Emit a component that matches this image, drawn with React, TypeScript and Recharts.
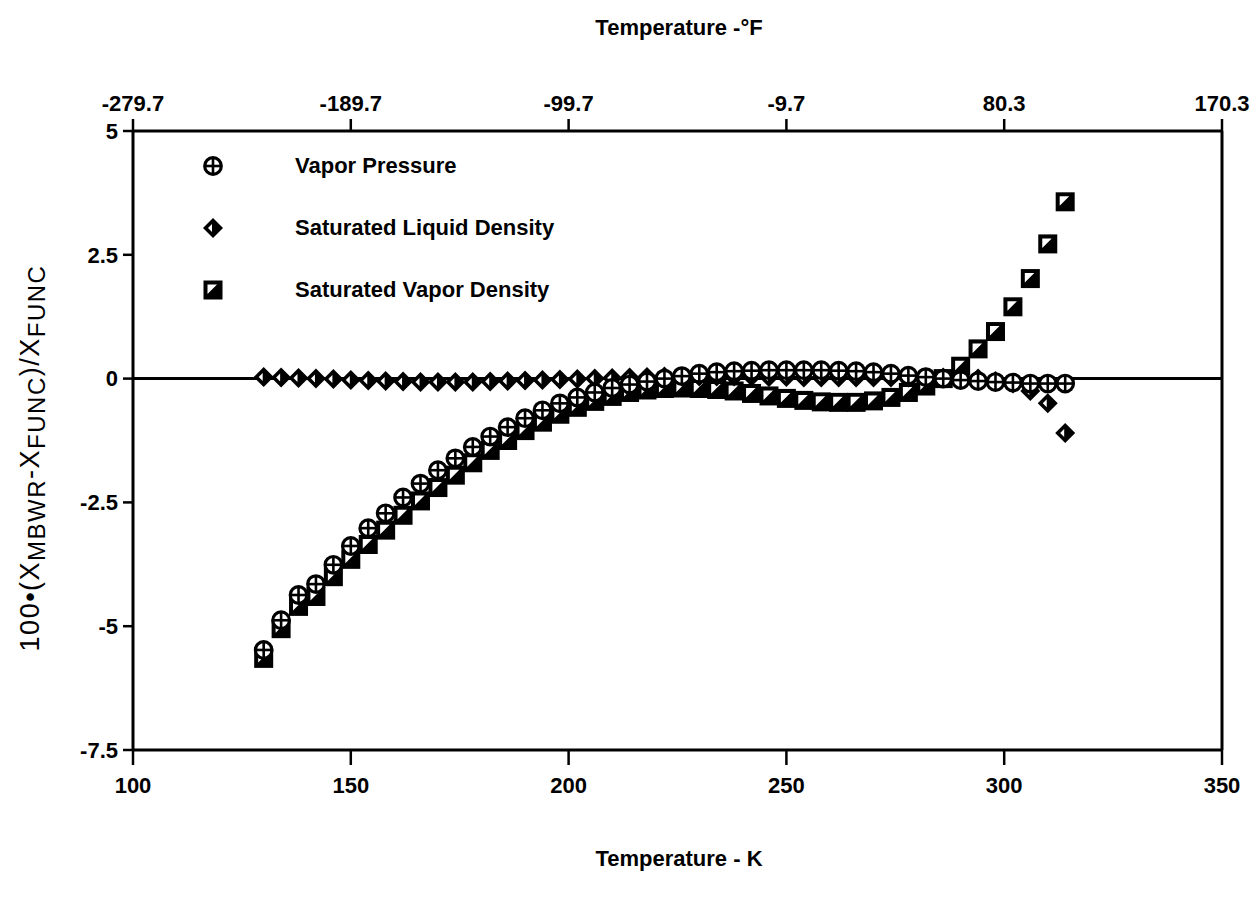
import React from 'react';
import { ScatterChart, Scatter, XAxis, YAxis, ReferenceLine, Legend } from 'recharts';

const temperaturesK = [
  130, 134, 138, 142, 146, 150, 154, 158, 162, 166, 170, 174, 178, 182, 186, 190,
  194, 198, 202, 206, 210, 214, 218, 222, 226, 230, 234, 238, 242, 246, 250, 254,
  258, 262, 266, 270, 274, 278, 282, 286, 290, 294, 298, 302, 306, 310, 314,
];

const vaporPressure = [
  -5.48, -4.88, -4.37, -4.15, -3.76, -3.38, -3.02, -2.72, -2.4, -2.12, -1.85, -1.61, -1.38, -1.17, -0.98, -0.8,
  -0.64, -0.5, -0.38, -0.28, -0.19, -0.12, -0.06, 0.0, 0.05, 0.1, 0.13, 0.15, 0.16, 0.17, 0.17, 0.17,
  0.17, 0.16, 0.15, 0.13, 0.1, 0.06, 0.03, 0.0, -0.03, -0.05, -0.07, -0.08, -0.1, -0.1, -0.1,
];

const liquidDensity = [
  0.03, 0.02, 0.01, 0.0, -0.01, -0.03, -0.04, -0.05, -0.06, -0.07, -0.07, -0.07, -0.07, -0.06, -0.05, -0.04,
  -0.03, -0.02, -0.01, 0.0, 0.01, 0.02, 0.03, 0.04, 0.04, 0.04, 0.04, 0.04, 0.04, 0.03, 0.03, 0.02,
  0.02, 0.02, 0.02, 0.02, 0.02, 0.02, 0.02, 0.02, 0.02, 0.0, -0.05, -0.1, -0.25, -0.5, -1.1,
];

const vaporDensity = [
  -5.65, -5.05, -4.6, -4.4, -4.0, -3.65, -3.35, -3.06, -2.76, -2.47, -2.2, -1.95, -1.7, -1.45, -1.25, -1.05,
  -0.88, -0.72, -0.58, -0.46, -0.36, -0.28, -0.23, -0.2, -0.19, -0.2, -0.22, -0.25, -0.3, -0.35, -0.4, -0.44,
  -0.47, -0.48, -0.48, -0.45, -0.38, -0.28, -0.15, 0.0, 0.25, 0.6, 0.95, 1.45, 2.02, 2.72, 3.57,
];

const kelvinTicks = [100, 150, 200, 250, 300, 350];
const fahrenheitTickLabels = ['-279.7', '-189.7', '-99.7', '-9.7', '80.3', '170.3'];
const yTicks = [5, 2.5, 0, -2.5, -5, -7.5];
const seriesNames = ['Vapor Pressure', 'Saturated Liquid Density', 'Saturated Vapor Density'];

const FONT = '"Liberation Sans", Arial, Helvetica, sans-serif';

const toPoints = (values: number[]) => temperaturesK.map((t, i) => ({ t, v: values[i] }));
const vpData = toPoints(vaporPressure);
const ldData = toPoints(liquidDensity);
const vdData = toPoints(vaporDensity);

function CircleCross({ cx, cy }: any) {
  if (cx == null || cy == null) return null;
  return (
    <g>
      <circle cx={cx} cy={cy} r={8.3} fill="#fff" stroke="#000" strokeWidth={3.2} />
      <line x1={cx - 8} x2={cx + 8} y1={cy} y2={cy} stroke="#000" strokeWidth={2.6} />
      <line x1={cx} x2={cx} y1={cy - 8} y2={cy + 8} stroke="#000" strokeWidth={2.6} />
    </g>
  );
}

function Diamond({ cx, cy }: any) {
  if (cx == null || cy == null) return null;
  const s = 10;
  return (
    <g>
      <path d={`M${cx} ${cy - s}L${cx + s} ${cy}L${cx} ${cy + s}L${cx - s} ${cy}Z`} fill="#000" />
      <path d={`M${cx - 5} ${cy}L${cx - 1} ${cy - 4}L${cx - 1} ${cy + 4}Z`} fill="#fff" />
    </g>
  );
}

function HalfSquare({ cx, cy }: any) {
  if (cx == null || cy == null) return null;
  const s = 9.5;
  return (
    <g>
      <rect x={cx - s} y={cy - s} width={2 * s} height={2 * s} fill="#000" />
      <path d={`M${cx - 5.5} ${cy - 5.5}L${cx + 4} ${cy - 5.5}L${cx - 5.5} ${cy + 4}Z`} fill="#fff" />
    </g>
  );
}

const markers = [CircleCross, Diamond, HalfSquare];

function LegendContent() {
  return (
    <div style={{ fontFamily: FONT, fontWeight: 'bold', fontSize: 22, color: '#000' }}>
      {seriesNames.map((name, i) => {
        const M = markers[i];
        return (
          <div key={name} style={{ display: 'flex', alignItems: 'center', height: 62 }}>
            <svg width={40} height={30} style={{ display: 'block' }}>
              <M cx={20} cy={15} />
            </svg>
            <span style={{ marginLeft: 62, whiteSpace: 'nowrap' }}>{name}</span>
          </div>
        );
      })}
    </div>
  );
}

function YTitle() {
  const x = 31;
  const y = 450;
  return (
    <text
      x={x}
      y={y}
      transform={`rotate(-90, ${x}, ${y})`}
      textAnchor="middle"
      fontFamily={FONT}
      fontSize={27}
      letterSpacing={1.5}
      fill="#000"
    >
      100•(X
      <tspan dy={6} fontSize={24}>MBWR</tspan>
      <tspan dy={-6}>-X</tspan>
      <tspan dy={6} fontSize={24}>FUNC</tspan>
      <tspan dy={-6}>)/X</tspan>
      <tspan dy={6} fontSize={24}>FUNC</tspan>
    </text>
  );
}

function TopTitle() {
  return (
    <text x={671} y={27} textAnchor="middle" fontFamily={FONT} fontWeight="bold" fontSize={22} fill="#000">
      Temperature -°F
    </text>
  );
}

function BottomTitle() {
  return (
    <text x={671} y={858} textAnchor="middle" fontFamily={FONT} fontWeight="bold" fontSize={22} fill="#000">
      Temperature - K
    </text>
  );
}

const tickStyle = { fill: '#000', fontSize: 22, fontWeight: 'bold', fontFamily: FONT } as any;
const axisLine = { stroke: '#000', strokeWidth: 3 };
const tickLine = { stroke: '#000', strokeWidth: 2.5 };

export default function App() {
  return (
    <div style={{ width: 1242, height: 882 }}>
      <ScatterChart width={1242} height={882} margin={{ top: 0, right: 28, bottom: 0, left: 0 }}>
        <XAxis
          xAxisId={0}
          dataKey="t"
          type="number"
          domain={[100, 350]}
          ticks={kelvinTicks}
          allowDataOverflow
          height={140}
          tickSize={15}
          tickMargin={12}
          tick={tickStyle}
          axisLine={axisLine}
          tickLine={tickLine}
          label={<BottomTitle />}
        />
        <XAxis
          xAxisId="top"
          dataKey="t"
          orientation="top"
          type="number"
          domain={[100, 350]}
          ticks={kelvinTicks}
          allowDataOverflow
          height={123}
          tickSize={12}
          tickMargin={8}
          tick={tickStyle}
          axisLine={axisLine}
          tickLine={tickLine}
          tickFormatter={(v: number) => fahrenheitTickLabels[kelvinTicks.indexOf(v)]}
          label={<TopTitle />}
        />
        <YAxis
          dataKey="v"
          type="number"
          domain={[-7.5, 5]}
          ticks={yTicks}
          allowDataOverflow
          width={125}
          tickSize={10}
          tickMargin={5}
          tick={tickStyle}
          axisLine={axisLine}
          tickLine={tickLine}
          label={<YTitle />}
        />
        <ReferenceLine y={0} stroke="#000" strokeWidth={3} />
        <ReferenceLine x={350} stroke="#000" strokeWidth={3} />
        <Legend
          layout="vertical"
          align="center"
          verticalAlign="middle"
          content={<LegendContent />}
          wrapperStyle={{ left: 185, top: 127, width: 'auto' }}
        />
        <Scatter name={seriesNames[2]} data={vdData} shape={<HalfSquare />} isAnimationActive={false} legendType="none" />
        <Scatter name={seriesNames[1]} data={ldData} xAxisId="top" shape={<Diamond />} isAnimationActive={false} legendType="none" />
        <Scatter name={seriesNames[0]} data={vpData} shape={<CircleCross />} isAnimationActive={false} legendType="none" />
      </ScatterChart>
    </div>
  );
}
